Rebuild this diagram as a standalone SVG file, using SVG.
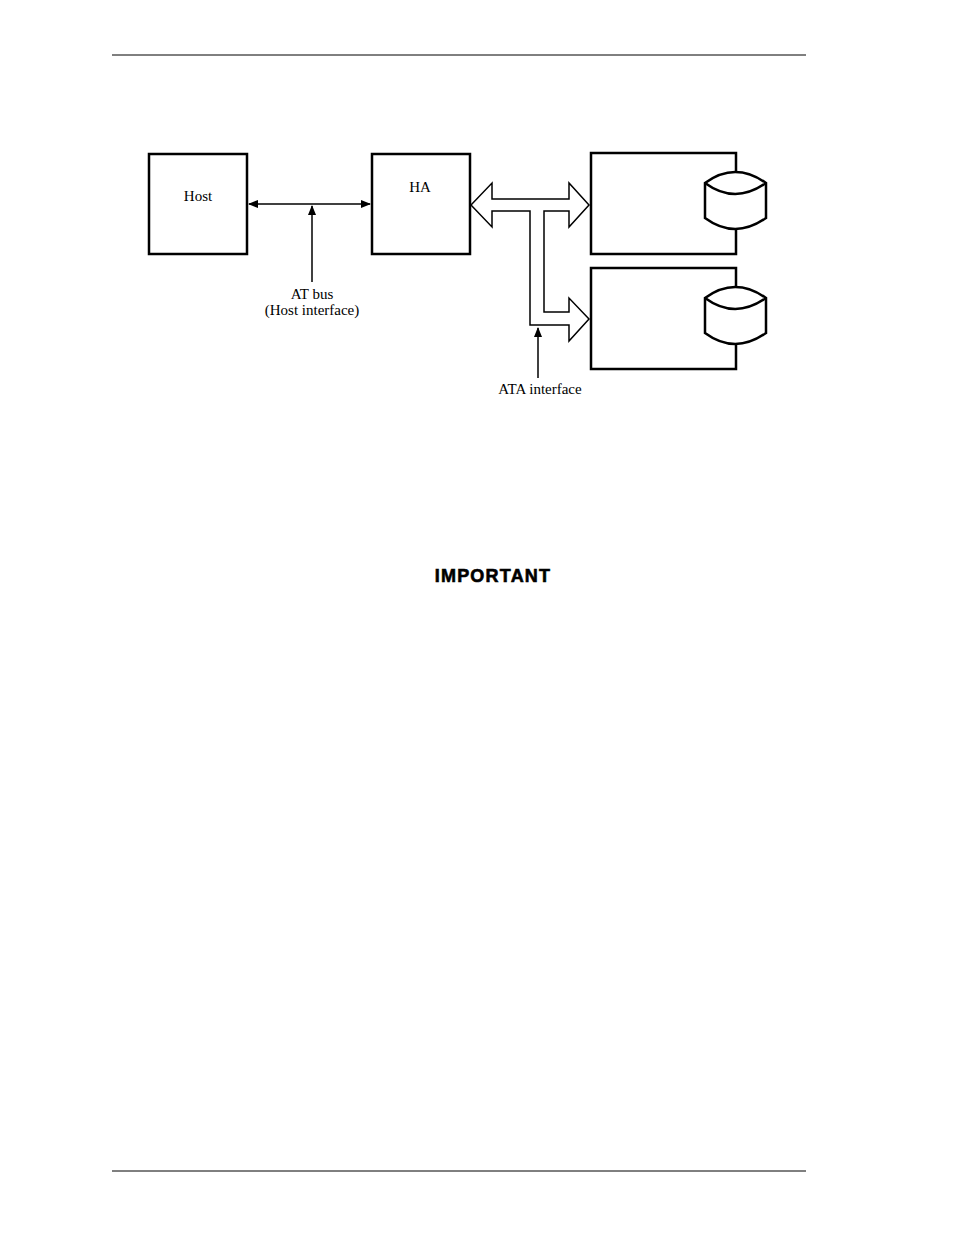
<svg xmlns="http://www.w3.org/2000/svg" width="954" height="1235" viewBox="0 0 954 1235">
<style>
.box{fill:#fff;stroke:#000;stroke-width:2.5}
.ln{fill:none;stroke:#000;stroke-width:1.5}
.t{font-family:"Liberation Serif",serif;font-size:15px;fill:#000;text-anchor:middle}
</style>
<defs>
<marker id="ah" markerWidth="10" markerHeight="8" refX="9" refY="4" orient="auto-start-reverse" markerUnits="userSpaceOnUse">
<path d="M0,0 L10,4 L0,8 Z" fill="#000"/>
</marker>
</defs>
<rect width="954" height="1235" fill="#fff"/>
<line x1="112" y1="55" x2="806" y2="55" stroke="#000" stroke-width="1"/>
<line x1="112" y1="1171" x2="806" y2="1171" stroke="#000" stroke-width="1"/>
<g id="host"><rect class="box" x="149" y="154" width="98" height="100"/><text class="t" x="198" y="201">Host</text></g>
<g id="ha"><rect class="box" x="372" y="154" width="98" height="100"/><text class="t" x="420" y="192">HA</text></g>
<g id="drive1">
<path class="box" d="M736,173 V153 H591 V254 H736 V229" />
<path class="box" d="M705,183 Q735,161 766,183 V218 Q735,240 705,218 Z"/>
<path class="box" style="fill:none" d="M705,183 Q735,205 766,183"/>
</g>
<g id="drive2">
<path class="box" d="M736,288 V268 H591 V369 H736 V344" />
<path class="box" d="M705,298 Q735,276 766,298 V333 Q735,355 705,333 Z"/>
<path class="box" style="fill:none" d="M705,298 Q735,320 766,298"/>
</g>
<g id="connectors">
<line class="ln" x1="249" y1="204" x2="370" y2="204" marker-start="url(#ah)" marker-end="url(#ah)"/>
<line class="ln" x1="312" y1="282" x2="312" y2="206" marker-end="url(#ah)"/>
<path fill="#fff" stroke="#000" stroke-width="1.5" d="M471,205 L492,183 L492,199 L569,199 L569,183 L589,205 L569,227 L569,211 L544,211 L544,312 L569,312 L569,298 L589,319 L569,341 L569,325 L530,325 L530,211 L492,211 L492,227 Z"/>
<line class="ln" x1="538" y1="378" x2="538" y2="328" marker-end="url(#ah)"/>
</g>
<text class="t" x="312" y="299">AT bus</text>
<text class="t" x="312" y="315">(Host interface)</text>
<text class="t" x="540" y="394">ATA interface</text>
<text x="493" y="582" font-family="Liberation Sans,Arial,sans-serif" font-weight="bold" font-size="18" letter-spacing="1.2" stroke="#000" stroke-width="0.6" text-anchor="middle">IMPORTANT</text>
</svg>
